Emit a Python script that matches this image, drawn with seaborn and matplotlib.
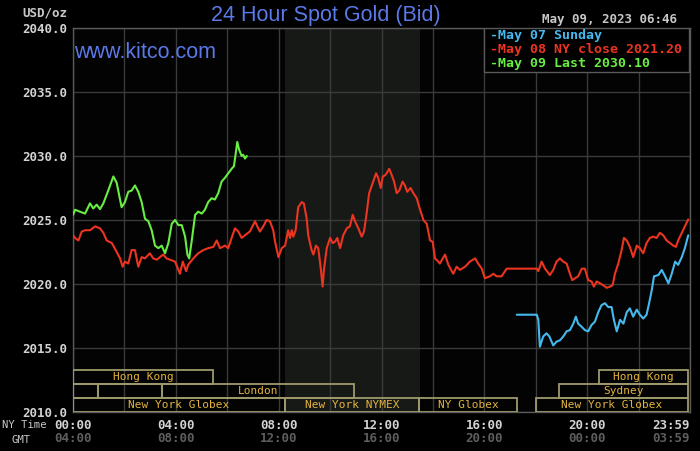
import numpy as np
import matplotlib
matplotlib.use('Agg')
import matplotlib.pyplot as plt
from matplotlib.patches import Rectangle
import seaborn as sns
import pandas as pd

# NY time (decimal hours) and bid price (USD/oz)
may07_hours = [17.26, 18.04, 18.10, 18.16, 18.29, 18.42, 18.53, 18.68, 18.81, 18.94, 19.07, 19.20, 19.33,
               19.46, 19.56, 19.65, 19.79, 19.91, 20.04, 20.17, 20.30, 20.43, 20.56, 20.69, 20.82, 20.95,
               21.04, 21.15, 21.28, 21.41, 21.54, 21.66, 21.79, 21.93, 22.05, 22.18, 22.31, 22.41, 22.51,
               22.60, 22.77, 22.90, 23.03, 23.16, 23.29, 23.42, 23.54, 23.68, 23.80, 23.93]
may07_price = [2017.6, 2017.6, 2017.2, 2015.1, 2015.9, 2016.15, 2015.9, 2015.2, 2015.5, 2015.6, 2015.9, 2016.3,
               2016.4, 2016.9, 2017.45, 2016.9, 2016.65, 2016.4, 2016.3, 2016.8, 2017.05, 2017.8, 2018.35,
               2018.5, 2018.2, 2018.2, 2017.2, 2016.3, 2017.2, 2016.9, 2017.8, 2018.1, 2017.45, 2018.0,
               2017.6, 2017.3, 2017.6, 2018.5, 2019.5, 2020.6, 2020.7, 2021.1, 2020.6, 2020.05, 2020.8,
               2021.75, 2021.5, 2022.1, 2022.8, 2023.8]

may08_hours = [0.00, 0.08, 0.21, 0.34, 0.47, 0.66, 0.86, 1.05, 1.18, 1.31, 1.51, 1.70, 1.83, 1.93, 2.02, 2.15,
               2.28, 2.41, 2.54, 2.67, 2.80, 2.99, 3.12, 3.26, 3.38, 3.51, 3.64, 3.77, 3.97, 4.10, 4.16, 4.27,
               4.40, 4.48, 4.68, 4.87, 5.07, 5.26, 5.46, 5.59, 5.72, 5.91, 6.04, 6.17, 6.30, 6.43, 6.56, 6.69,
               6.88, 7.08, 7.17, 7.27, 7.40, 7.53, 7.66, 7.79, 7.86, 7.99, 8.12, 8.25, 8.31, 8.37, 8.44, 8.51,
               8.57, 8.66, 8.76, 8.90, 8.98, 9.09, 9.15, 9.28, 9.35, 9.45, 9.54, 9.63, 9.71, 9.76, 9.87, 10.00,
               10.10, 10.19, 10.28, 10.39, 10.51, 10.65, 10.77, 10.88, 10.97, 11.10, 11.23, 11.32, 11.42,
               11.52, 11.66, 11.79, 11.87, 11.97, 12.05, 12.14, 12.20, 12.30, 12.40, 12.49, 12.59, 12.69,
               12.82, 12.91, 13.00, 13.13, 13.24, 13.37, 13.50, 13.63, 13.76, 13.89, 13.99, 14.08, 14.21,
               14.27, 14.47, 14.60, 14.79, 14.92, 15.05, 15.25, 15.44, 15.64, 15.76, 15.90, 16.02, 16.22,
               16.35, 16.48, 16.67, 16.87, 17.00, 18.04, 18.10, 18.23, 18.36, 18.55, 18.68, 18.81, 18.94,
               19.07, 19.20, 19.33, 19.42, 19.53, 19.65, 19.79, 19.91, 20.04, 20.17, 20.26, 20.37, 20.50,
               20.63, 20.76, 20.89, 20.99, 21.08, 21.21, 21.34, 21.43, 21.54, 21.66, 21.79, 21.93, 22.05,
               22.18, 22.31, 22.44, 22.57, 22.70, 22.83, 22.96, 23.09, 23.22, 23.35, 23.45, 23.54, 23.68,
               23.80, 23.93]
may08_price = [2023.8, 2023.6, 2023.4, 2024.1, 2024.2, 2024.2, 2024.5, 2024.35, 2024.0, 2023.4, 2023.2, 2022.5,
               2022.0, 2021.35, 2021.75, 2021.6, 2022.65, 2022.65, 2021.35, 2022.1, 2022.0, 2022.4, 2022.0,
               2021.9, 2022.1, 2022.3, 2022.0, 2021.9, 2021.75, 2021.1, 2020.8, 2021.75, 2021.0, 2021.5,
               2022.0, 2022.4, 2022.65, 2022.8, 2022.9, 2023.4, 2022.8, 2023.0, 2022.8, 2023.6, 2024.35,
               2024.1, 2023.6, 2023.8,
               2024.1, 2024.9, 2024.5, 2024.1, 2024.5, 2025.0, 2024.9, 2024.2, 2023.3, 2022.1, 2022.8, 2023.0,
               2023.6, 2024.2, 2023.6, 2024.2, 2023.7, 2024.2, 2026.0, 2026.4, 2026.3, 2025.1, 2023.8,
               2022.65, 2022.3, 2023.0, 2022.8, 2021.35, 2019.8, 2021.1, 2022.8, 2023.6, 2023.2, 2023.3,
               2023.6, 2022.8, 2023.8, 2024.35, 2024.5, 2025.4, 2024.9, 2024.35, 2023.7, 2024.1, 2025.5,
               2027.1, 2027.9, 2028.65, 2028.3, 2027.5, 2028.4, 2028.5, 2028.65, 2029.0, 2028.5, 2028.0,
               2027.1, 2027.3, 2028.0, 2027.7, 2027.2, 2027.5, 2027.1, 2026.7, 2025.8, 2025.0, 2024.7,
               2023.4, 2023.3, 2022.0, 2021.75,
               2021.6, 2022.3, 2021.5, 2020.8, 2021.35, 2021.1, 2021.35, 2021.75, 2022.0, 2021.6, 2021.2,
               2020.45, 2020.6, 2020.8, 2020.6, 2020.6, 2021.2, 2021.2, 2021.2, 2021.0, 2021.75, 2021.2,
               2020.7, 2021.1, 2021.75, 2022.0, 2021.75, 2021.6, 2020.8, 2020.3, 2020.45, 2020.6, 2021.2,
               2021.2, 2020.3, 2020.2, 2019.8, 2020.2, 2020.05, 2019.9, 2019.7, 2019.8, 2019.9, 2020.8,
               2021.6, 2022.65, 2023.6, 2023.4, 2022.9, 2022.1, 2023.0, 2022.8, 2022.4, 2023.2, 2023.6,
               2023.7, 2023.6, 2024.0, 2023.8, 2023.4, 2023.2, 2023.0, 2022.9, 2023.4, 2024.0, 2024.5, 2025.05]

may09_hours = [0.00, 0.08, 0.27, 0.47, 0.66, 0.79, 0.92, 1.05, 1.18, 1.37, 1.57, 1.70, 1.83, 1.89, 2.02, 2.15,
               2.28, 2.41, 2.54, 2.67, 2.80, 2.93, 3.06, 3.19, 3.32, 3.45, 3.58, 3.71, 3.84, 3.97, 4.10, 4.23,
               4.36, 4.45, 4.52, 4.62, 4.75, 4.87, 5.01, 5.13, 5.26, 5.39, 5.52, 5.65, 5.78, 5.91, 6.04, 6.17,
               6.26, 6.33, 6.39, 6.46, 6.56, 6.62, 6.69, 6.76]
may09_price = [2025.4, 2025.8, 2025.65, 2025.5, 2026.3, 2025.9, 2026.2, 2025.85, 2026.3, 2027.3, 2028.4, 2027.9,
               2026.6, 2026.0, 2026.4, 2027.2, 2027.3, 2027.7, 2027.2, 2026.4, 2025.1, 2024.9, 2024.2, 2023.0,
               2022.8, 2023.0, 2022.4, 2023.2, 2024.7, 2025.0, 2024.6, 2024.6, 2023.7, 2022.3, 2022.0, 2023.4,
               2025.4, 2025.65, 2025.5, 2025.8, 2026.4, 2026.7, 2026.6, 2027.1, 2028.0, 2028.3, 2028.65,
               2029.0, 2029.2, 2030.2, 2031.1, 2030.5, 2030.0, 2030.1, 2029.8, 2030.0]

day_names = ['May 07', 'May 08', 'May 09']
day_colors = ['#45b9ee', '#ec3420', '#68ee42']
legend_labels = ['-May 07 Sunday', '-May 08 NY close 2021.20', '-May 09 Last 2030.10']

y_ticks = [2010.0, 2015.0, 2020.0, 2025.0, 2030.0, 2035.0, 2040.0]
ny_ticks = [0, 4, 8, 12, 16, 20, 24]
ny_labels = ['00:00', '04:00', '08:00', '12:00', '16:00', '20:00', '23:59']
gmt_labels = ['04:00', '08:00', '12:00', '16:00', '20:00', '00:00', '03:59']

# trading sessions: name, start hour, end hour, row (0 = bottom)
session_names = ['New York Globex', 'New York NYMEX', 'NY Globex', 'New York Globex',
                 '', '', 'London', 'Sydney', 'Hong Kong', 'Hong Kong']
session_start = [0.0, 8.25, 13.45, 18.0, 0.0, 0.97, 3.46, 18.9, 0.0, 20.47]
session_end = [8.25, 13.45, 17.27, 23.93, 0.97, 3.46, 10.94, 23.93, 5.45, 23.93]
session_row = [0, 0, 0, 0, 1, 1, 1, 1, 2, 2]
nymex_open, nymex_close = 8.25, 13.5

df = pd.concat([
    pd.DataFrame({'hour': may07_hours, 'price': may07_price, 'day': day_names[0]}),
    pd.DataFrame({'hour': may08_hours, 'price': may08_price, 'day': day_names[1]}),
    pd.DataFrame({'hour': may09_hours, 'price': may09_price, 'day': day_names[2]}),
])

sns.set_style('dark', rc={'axes.facecolor': '#030303', 'figure.facecolor': '#000000',
                          'axes.edgecolor': '#5a5a5a', 'grid.color': '#3a3a3a'})
plt.rcParams['font.family'] = ['DejaVu Sans Mono']

fig = plt.figure(figsize=(7, 4.51), dpi=100)
ax = fig.add_axes([73 / 700, 39 / 451, 617 / 700, 384 / 451])

ax.axvspan(nymex_open, nymex_close, color='#171917', zorder=0, lw=0)

sns.lineplot(data=df, x='hour', y='price', hue='day', palette=day_colors, hue_order=day_names,
             sort=False, estimator=None, legend=False, linewidth=1.5, ax=ax, zorder=3)

ax.set_xlim(0, 24)
ax.set_ylim(2010, 2040)
ax.set_xticks(ny_ticks)
ax.set_xticks(np.arange(2, 24, 4), minor=True)
ax.set_xticklabels(ny_labels)
ax.set_yticks(y_ticks)
ax.set_yticklabels([f'{v:.1f}' for v in y_ticks])
ax.grid(True, which='both', color='#3a3a3a', linewidth=1)
ax.tick_params(which='both', length=0, colors='#d2d2d2', labelsize=9)
ax.tick_params(axis='x', pad=5)
ax.tick_params(axis='y', pad=4)
for lab in ax.get_xticklabels() + ax.get_yticklabels():
    lab.set_fontweight('bold')
ax.get_xticklabels()[-1].set_horizontalalignment('right')
ax.set_xlabel('')
ax.set_ylabel('')
for s in ax.spines.values():
    s.set_color('#5a5a5a')
    s.set_linewidth(1)

# session boxes along the bottom
row_h = 1.1
for name, a, b, r in zip(session_names, session_start, session_end, session_row):
    ax.add_patch(Rectangle((a, 2010 + r * row_h), b - a, row_h, fill=False,
                           edgecolor='#9e9a6c', linewidth=1.3, zorder=4))
    if name:
        ax.text((a + b) / 2, 2010 + (r + 0.5) * row_h, name, ha='center', va='center',
                color='#e2b43c', fontsize=8, zorder=5)

# GMT row under the NY time labels
for t, lab in zip(ny_ticks, gmt_labels):
    ha = 'right' if t == 24 else 'center'
    ax.text(t, -0.07, lab, transform=ax.get_xaxis_transform(), ha=ha, va='center',
            color='#5e5e5e', fontsize=9, fontweight='bold')
fig.text(2 / 700, 1 - 425 / 451, 'NY Time', ha='left', va='center', color='#c8c8c8', fontsize=7.6)
fig.text(21 / 700, 1 - 440 / 451, 'GMT', ha='center', va='center', color='#c8c8c8', fontsize=7.6)
fig.text(67 / 700, 1 - 13 / 451, 'USD/oz', ha='right', va='center', color='#c8c8c8', fontsize=9,
         fontweight='bold')

# legend box
ax.add_patch(Rectangle((0.666, 0.885), 0.332, 0.115, transform=ax.transAxes, facecolor='#000000',
                       edgecolor='#5a5a5a', linewidth=1, zorder=6))
for i, (lab, col) in enumerate(zip(legend_labels, day_colors)):
    fig.text(490 / 700, 1 - (35 + 14.2 * i) / 451, lab, ha='left', va='center', color=col,
             fontsize=9.5, fontweight='bold', zorder=7)

fig.text(677 / 700, 1 - 20 / 451, 'May 09, 2023 06:46', ha='right', va='center', color='#c8c8c8',
         fontsize=9, fontweight='bold')
fig.text(326 / 700, 1 - 15 / 451, '24 Hour Spot Gold (Bid)', ha='center', va='center',
         color='#5b79e8', fontsize=15.5, family='Liberation Sans')
fig.text(74 / 700, 1 - 53 / 451, 'www.kitco.com', ha='left', va='center',
         color='#5b79e8', fontsize=15.5, family='Liberation Sans')

fig.savefig('out.png', dpi=100, facecolor=fig.get_facecolor())
